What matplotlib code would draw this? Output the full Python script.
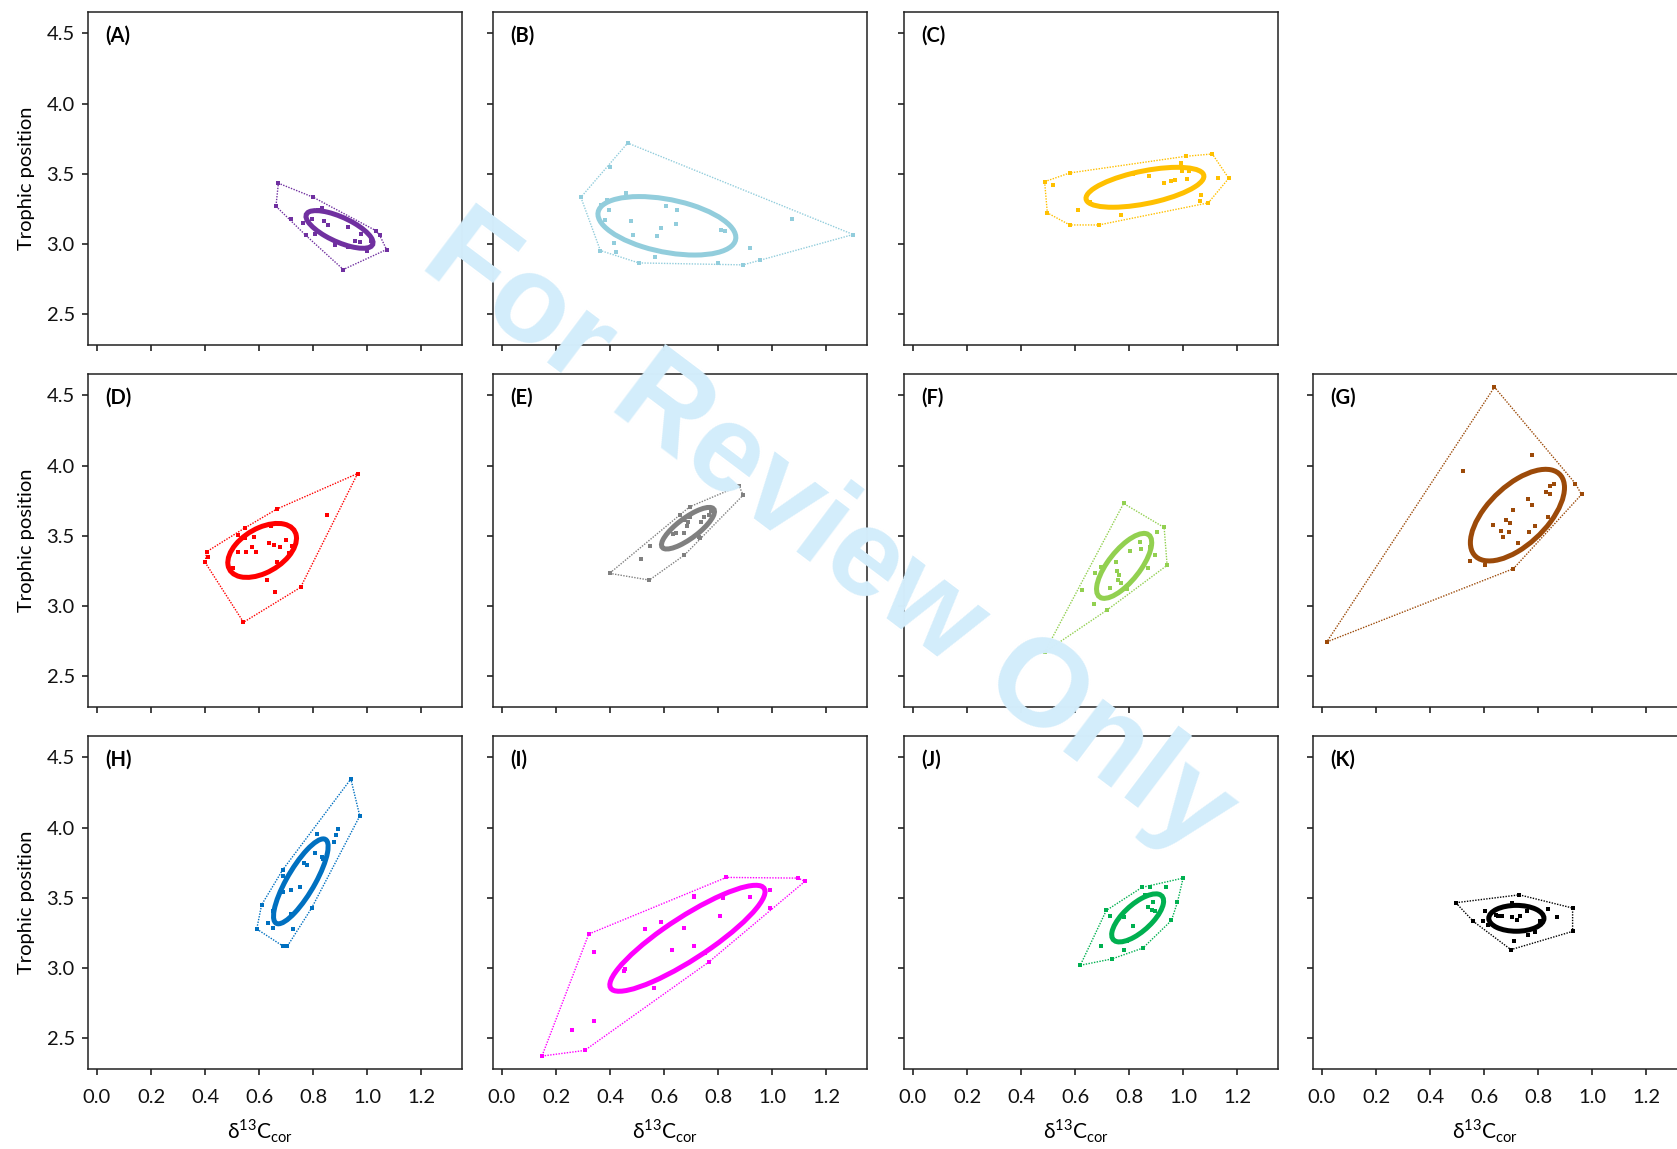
import numpy as np
import matplotlib
matplotlib.use("Agg")
import matplotlib.pyplot as plt
from matplotlib.patches import Ellipse

plt.rcParams["font.family"] = ["Lato", "DejaVu Sans"]
plt.rcParams["mathtext.fontset"] = "custom"
plt.rcParams["mathtext.rm"] = "Lato"

# panel data: d13C_cor (x) and trophic position (y)
a_x = [0.671, 0.800, 1.031, 1.046, 1.071, 0.911, 0.773, 0.718, 0.662, 0.794, 0.818, 0.831,
       0.839, 0.855, 0.761, 0.806, 0.880, 0.929, 0.954, 0.972, 0.997, 1.015, 0.978, 0.929]
a_y = [3.434, 3.334, 3.097, 3.062, 2.962, 2.820, 3.062, 3.180, 3.270, 3.180, 3.244, 3.258,
       3.168, 3.140, 3.149, 3.073, 2.991, 3.121, 3.021, 3.014, 2.950, 3.026, 3.073, 2.983]

b_x = [0.465, 0.398, 0.292, 0.364, 0.506, 0.798, 0.892, 0.953, 1.299, 0.458, 0.389, 0.366, 0.395, 0.380,
       0.476, 0.416, 0.421, 0.483, 0.565, 0.589, 0.575, 0.607, 0.649, 0.643, 0.810, 0.826, 0.919, 1.074]
b_y = [3.720, 3.552, 3.334, 2.955, 2.867, 2.867, 2.853, 2.889, 3.069, 3.363, 3.315, 3.282, 3.244, 3.173,
       3.164, 3.009, 2.943, 3.062, 2.908, 3.116, 3.055, 3.270, 3.244, 3.145, 3.102, 3.097, 2.974, 3.180]

c_x = [0.487, 0.580, 1.011, 1.107, 1.168, 1.092, 0.687, 0.580, 0.497, 0.517, 0.611, 0.654, 0.771,
       0.812, 0.872, 0.929, 0.953, 0.968, 0.993, 0.995, 1.013, 1.021, 1.067, 1.061, 1.129]
c_y = [3.445, 3.507, 3.626, 3.642, 3.469, 3.294, 3.137, 3.137, 3.223, 3.424, 3.244, 3.303, 3.209,
       3.500, 3.486, 3.438, 3.448, 3.460, 3.578, 3.524, 3.467, 3.524, 3.351, 3.310, 3.469]

d_x = [0.964, 0.665, 0.406, 0.400, 0.542, 0.753, 0.548, 0.521, 0.548, 0.581, 0.523, 0.550, 0.575, 0.588,
       0.642, 0.636, 0.655, 0.677, 0.699, 0.720, 0.711, 0.665, 0.505, 0.630, 0.657, 0.852, 0.412]
d_y = [3.944, 3.691, 3.388, 3.312, 2.886, 3.134, 3.558, 3.506, 3.482, 3.489, 3.383, 3.383, 3.418, 3.383,
       3.572, 3.451, 3.433, 3.423, 3.470, 3.430, 3.376, 3.312, 3.269, 3.184, 3.099, 3.646, 3.352]

e_x = [0.398, 0.545, 0.675, 0.734, 0.892, 0.877, 0.694, 0.660, 0.549, 0.516, 0.645,
       0.672, 0.684, 0.687, 0.672, 0.746, 0.765, 0.738, 0.773, 0.697, 0.632, 0.728]
e_y = [3.234, 3.186, 3.364, 3.482, 3.790, 3.856, 3.707, 3.648, 3.430, 3.333, 3.518,
       3.523, 3.572, 3.601, 3.612, 3.636, 3.648, 3.601, 3.679, 3.636, 3.513, 3.494]

f_x = [0.779, 0.929, 0.940, 0.718, 0.487, 0.625, 0.902, 0.839, 0.842, 0.804, 0.876, 0.894,
       0.870, 0.750, 0.756, 0.762, 0.759, 0.768, 0.728, 0.672, 0.694, 0.670, 0.793]
f_y = [3.731, 3.560, 3.291, 2.973, 2.673, 3.115, 3.530, 3.459, 3.407, 3.392, 3.423, 3.364,
       3.269, 3.317, 3.250, 3.222, 3.186, 3.167, 3.127, 3.234, 3.281, 3.014, 3.120]

g_x = [0.638, 0.937, 0.960, 0.708, 0.018, 0.778, 0.523, 0.859, 0.843, 0.827, 0.843, 0.763, 0.778,
       0.708, 0.837, 0.681, 0.694, 0.692, 0.631, 0.662, 0.671, 0.788, 0.767, 0.726, 0.548, 0.604]
g_y = [4.559, 3.873, 3.795, 3.267, 2.746, 4.074, 3.963, 3.873, 3.856, 3.809, 3.795, 3.766, 3.719,
       3.688, 3.636, 3.612, 3.593, 3.530, 3.577, 3.537, 3.489, 3.572, 3.530, 3.451, 3.321, 3.295]

h_x = [0.939, 0.972, 0.704, 0.689, 0.591, 0.609, 0.687, 0.815, 0.890, 0.884, 0.878, 0.806, 0.831,
       0.837, 0.767, 0.776, 0.687, 0.689, 0.718, 0.751, 0.652, 0.718, 0.631, 0.650, 0.726, 0.794]
h_y = [4.346, 4.083, 3.156, 3.156, 3.279, 3.451, 3.700, 3.956, 3.991, 3.949, 3.901, 3.818, 3.790,
       3.776, 3.747, 3.731, 3.653, 3.539, 3.553, 3.577, 3.404, 3.385, 3.321, 3.286, 3.281, 3.428]

i_x = [0.148, 0.306, 0.765, 0.993, 1.120, 1.096, 0.830, 0.709, 0.321, 0.259, 0.339, 0.339, 0.454,
       0.450, 0.561, 0.528, 0.588, 0.628, 0.672, 0.712, 0.750, 0.805, 0.816, 0.919, 0.993, 0.709]
i_y = [2.375, 2.415, 3.044, 3.428, 3.617, 3.641, 3.646, 3.515, 3.243, 2.564, 2.623, 3.115, 2.997,
       2.978, 2.857, 3.279, 3.328, 3.132, 3.286, 3.160, 3.108, 3.373, 3.499, 3.504, 3.558, 3.510]

j_x = [0.619, 0.715, 0.847, 0.878, 0.999, 0.978, 0.956, 0.851, 0.736, 0.934, 0.694,
       0.779, 0.730, 0.779, 0.812, 0.793, 0.870, 0.888, 0.884, 0.894, 0.857]
j_y = [3.021, 3.411, 3.575, 3.575, 3.641, 3.468, 3.340, 3.144, 3.066, 3.575, 3.160,
       3.132, 3.373, 3.362, 3.302, 3.191, 3.433, 3.470, 3.416, 3.409, 3.522]

k_x = [0.495, 0.730, 0.927, 0.927, 0.699, 0.560, 0.594, 0.603, 0.652, 0.644, 0.665, 0.704,
       0.722, 0.732, 0.757, 0.837, 0.868, 0.788, 0.763, 0.711, 0.615, 0.806, 0.702]
k_y = [3.466, 3.522, 3.428, 3.262, 3.132, 3.333, 3.333, 3.404, 3.369, 3.380, 3.373, 3.362,
       3.345, 3.369, 3.404, 3.421, 3.362, 3.257, 3.238, 3.191, 3.309, 3.333, 3.463]

# standard ellipses: centre x, centre y, sd x, sd y, correlation
ellipses = {
    "A": (0.897, 3.105, 0.124, 0.134, -0.70),
    "B": (0.610, 3.131, 0.255, 0.208, -0.40),
    "C": (0.858, 3.405, 0.218, 0.142, 0.55),
    "D": (0.611, 3.397, 0.127, 0.192, 0.45),
    "E": (0.688, 3.555, 0.098, 0.148, 0.80),
    "F": (0.781, 3.287, 0.102, 0.231, 0.72),
    "G": (0.723, 3.648, 0.174, 0.326, 0.60),
    "H": (0.754, 3.618, 0.101, 0.302, 0.82),
    "I": (0.686, 3.213, 0.287, 0.377, 0.88),
    "J": (0.831, 3.358, 0.096, 0.171, 0.70),
    "K": (0.719, 3.355, 0.102, 0.092, 0.00),
}

panels = [
    ("A", a_x, a_y, "#7030A0", 0, 0),
    ("B", b_x, b_y, "#92CDDC", 0, 1),
    ("C", c_x, c_y, "#FFC000", 0, 2),
    ("D", d_x, d_y, "#FF0000", 1, 0),
    ("E", e_x, e_y, "#808080", 1, 1),
    ("F", f_x, f_y, "#92D050", 1, 2),
    ("G", g_x, g_y, "#9C4A09", 1, 3),
    ("H", h_x, h_y, "#0070C0", 2, 0),
    ("I", i_x, i_y, "#FF00FF", 2, 1),
    ("J", j_x, j_y, "#00B050", 2, 2),
    ("K", k_x, k_y, "#000000", 2, 3),
]

x_ticks = [0.0, 0.2, 0.4, 0.6, 0.8, 1.0, 1.2]
y_ticks = [2.5, 3.0, 3.5, 4.0, 4.5]


def convex_hull(xs, ys):
    pts = sorted(set(zip(xs, ys)))

    def cross(o, a, b):
        return (a[0] - o[0]) * (b[1] - o[1]) - (a[1] - o[1]) * (b[0] - o[0])

    lower, upper = [], []
    for p in pts:
        while len(lower) >= 2 and cross(lower[-2], lower[-1], p) <= 0:
            lower.pop()
        lower.append(p)
    for p in reversed(pts):
        while len(upper) >= 2 and cross(upper[-2], upper[-1], p) <= 0:
            upper.pop()
        upper.append(p)
    hull = lower[:-1] + upper[:-1]
    hull.append(hull[0])
    return [p[0] for p in hull], [p[1] for p in hull]


def sea_patch(cx, cy, sx, sy, rho, color):
    cov = np.array([[sx ** 2, rho * sx * sy], [rho * sx * sy, sy ** 2]])
    vals, vecs = np.linalg.eigh(cov)
    angle = np.degrees(np.arctan2(vecs[1, 1], vecs[0, 1]))
    return Ellipse((cx, cy), 2 * np.sqrt(vals[1]), 2 * np.sqrt(vals[0]), angle=angle,
                   fill=False, lw=3.6, edgecolor=color, zorder=3)


def main():
    W, H = 1677, 1149
    fig = plt.figure(figsize=(W / 100, H / 100), dpi=100)

    lefts = [88, 493, 904, 1313]
    tops = [12, 374, 736]
    aw, ah = 374, 333

    for label, xs, ys, color, row, col in panels:
        ax = fig.add_axes([lefts[col] / W, 1 - (tops[row] + ah) / H, aw / W, ah / H])
        ax.set_xlim(-0.033, 1.35)
        ax.set_ylim(2.283, 4.652)
        ax.set_xticks(x_ticks)
        ax.set_yticks(y_ticks)
        ax.tick_params(direction="out", length=4.5, width=1.1, labelsize=14.5, colors="#111111")
        ax.tick_params(axis="x", pad=10)
        ax.tick_params(axis="y", pad=5)
        for s in ax.spines.values():
            s.set_linewidth(1.1)
            s.set_color("#222222")

        hx, hy = convex_hull(xs, ys)
        ax.plot(hx, hy, ls=(0, (1, 1)), lw=1.0, color=color, zorder=2)
        ax.scatter(xs, ys, marker="s", s=9, color=color, linewidths=0, zorder=4)
        cx, cy, sx, sy, rho = ellipses[label]
        ax.add_patch(sea_patch(cx, cy, sx, sy, rho, color))

        ax.text(0.045, 0.928, f"({label})", transform=ax.transAxes, fontsize=14.5,
                fontweight="bold", ha="left", va="center")

        if col == 0:
            ax.set_ylabel("Trophic position", fontsize=14.5, labelpad=8)
        else:
            ax.set_yticklabels([])
        if row == 2:
            ax.set_xticklabels([f"{t:.1f}" for t in x_ticks])
            ax.set_xlabel(r"δ$^{\mathregular{13}}$C$_{\mathregular{cor}}$", fontsize=15, labelpad=2)
            ax.xaxis.set_label_coords(0.46, -0.145)
        else:
            ax.set_xticklabels([])

    # review watermark laid over the panels
    fig.text(0.494, 0.535, "For Review Only", rotation=-37, fontsize=90, color="#d3edfb",
             fontweight="bold", ha="center", va="center",
             family=["Liberation Sans Narrow", "Liberation Sans"], zorder=10)

    fig.savefig("out.png", dpi=100)


if __name__ == "__main__":
    main()
